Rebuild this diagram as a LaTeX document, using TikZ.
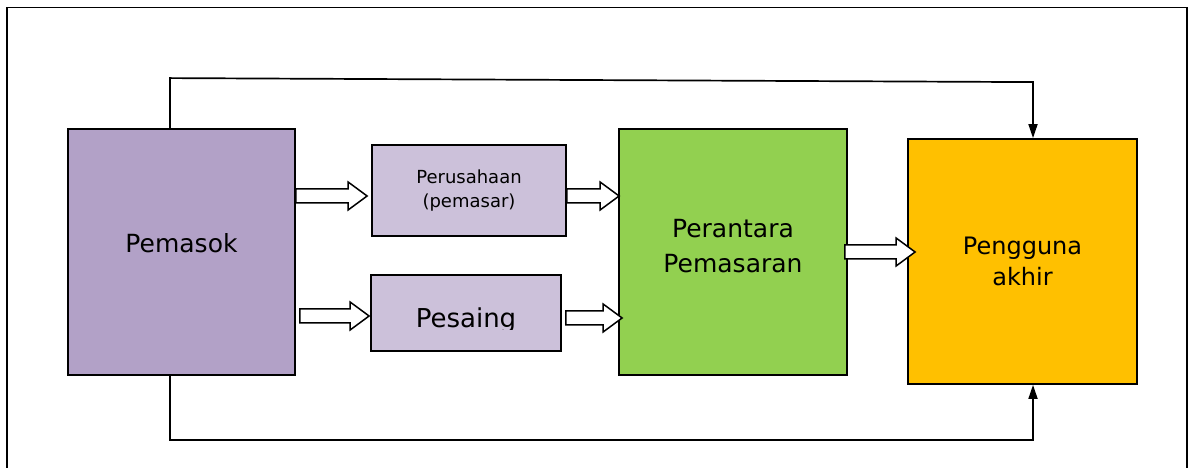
\documentclass[tikz,border=0pt]{standalone}
\usepackage{fontspec}
\setmainfont{DejaVu Sans}
\usetikzlibrary{arrows.meta,calc}

\definecolor{ungu}{HTML}{B2A1C7}
\definecolor{ungumuda}{HTML}{CCC1DA}
\definecolor{hijau}{HTML}{92D050}
\definecolor{oranye}{HTML}{FFC000}

\tikzset{
  kotak/.style={draw,line width=1.8pt,inner sep=0pt,align=center},
  garis/.style={line width=1.7pt},
  panah/.style={draw,fill=white,line width=1.5pt,line join=miter},
  ujung/.style={-{Triangle[length=14pt,width=9pt]}}
}
% block arrow: shaft from #1 to the x of #2, at the height of #2
\newcommand{\panahblok}[2]{
  \draw[panah] let \p1=(#1), \p2=(#2) in
    (\x1,\y2+7pt)--(\x2-19pt,\y2+7pt)--(\x2-19pt,\y2+14pt)--(\x2,\y2)
    --(\x2-19pt,\y2-14pt)--(\x2-19pt,\y2-7pt)--(\x1,\y2-7pt)--cycle;
}

\begin{document}
\begin{tikzpicture}[x=1pt,y=1pt]
  \useasboundingbox (0,0) rectangle (1189,468);
  \draw[line width=1.8pt](7,0)--(7,460.5)--(1187,460.5)--(1187,0);
  % boxes
  \node[kotak,fill=ungu,minimum width=227pt,minimum height=246pt,font=\fontsize{25}{30}\selectfont]
    (pemasok) at (181.5,216) {Pemasok\\[-12pt]\mbox{}};
  \node[kotak,fill=ungumuda,minimum width=194pt,minimum height=91pt,font=\fontsize{18}{24}\selectfont]
    (perusahaan) at (469,277.5) {Perusahaan\\(pemasar)};
  \node[kotak,fill=ungumuda,minimum width=190pt,minimum height=76pt] (pesaing) at (466,155) {};
  \begin{scope}
    \clip (pesaing.north west) rectangle ([yshift=22pt]pesaing.south east);
    \node[anchor=base,font=\fontsize{26}{30}\selectfont] (pesaingteks) at ([yshift=-15pt]pesaing.center) {Pesaing};
  \end{scope}
  \node[kotak,fill=hijau,minimum width=228pt,minimum height=246pt,font=\fontsize{25}{35}\selectfont]
    (perantara) at (733,216) {Perantara\\Pemasaran\\[-22pt]\mbox{}};
  \node[kotak,fill=oranye,minimum width=229pt,minimum height=245pt,font=\fontsize{24}{31}\selectfont]
    (pengguna) at (1022.5,206.5) {Pengguna\\akhir};
  % block arrows
  \panahblok{pemasok.east}{[xshift=-4pt,yshift=-5.5pt]perusahaan.west}
  \panahblok{perusahaan.east}{[xshift=1pt,yshift=56pt]perantara.west}
  \panahblok{[xshift=4pt]pemasok.east}{[xshift=-1pt,yshift=-3pt]pesaing.west}
  \panahblok{[xshift=4pt]pesaing.east}{[xshift=4pt,yshift=-66pt]perantara.west}
  \panahblok{[xshift=-3pt]perantara.east}{[xshift=8pt,yshift=9.5pt]pengguna.west}
  % direct lines to the end user
  \draw[garis,ujung]([xshift=-11.5pt]pemasok.north)--++(0,50)
    --([shift={(10.5pt,56pt)}]pengguna.north)--([xshift=10.5pt]pengguna.north);
  \draw[garis,ujung]([xshift=-11.5pt]pemasok.south)--++(0,-64)-|([xshift=10.5pt]pengguna.south);
\end{tikzpicture}
\end{document}
